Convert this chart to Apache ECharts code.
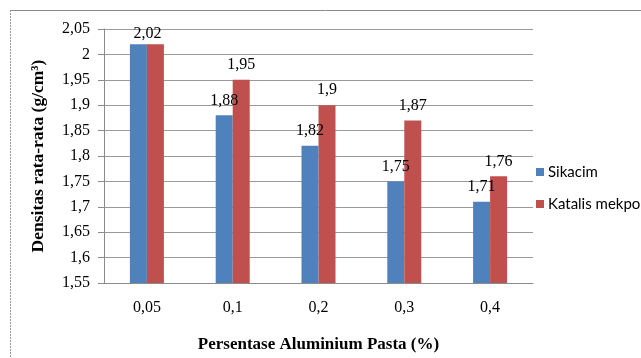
<!DOCTYPE html>
<html>
<head>
<meta charset="utf-8">
<script src="https://cdn.jsdelivr.net/npm/echarts@6/dist/echarts.min.js"></script>
<style>
html,body{margin:0;padding:0;background:#fff;}
#c{width:641px;height:358px;}
</style>
</head>
<body>
<div id="c"></div>
<script>
var categories = ['0,05', '0,1', '0,2', '0,3', '0,4'];
var sikacim = [2.02, 1.88, 1.82, 1.75, 1.71];
var katalis = [2.02, 1.95, 1.90, 1.87, 1.76];
var seriesNames = ['Sikacim', 'Katalis mekpo'];
var yTitle = 'Densitas rata-rata (g/cm³)';
var xTitle = 'Persentase Aluminium Pasta (%)';

function fmt(v) {
  return String(Math.round(v * 100) / 100).replace('.', ',');
}

var chart = echarts.init(document.getElementById('c'));
var serif = '"Liberation Serif", "Times New Roman", serif';

var labelBase = {
  show: true, position: 'top', distance: 7,
  fontFamily: serif, fontSize: 16, color: '#000',
  formatter: function (p) { return fmt(p.value); }
};

var sikData = sikacim.map(function (v, i) {
  if (i === 0) return { value: v, label: { show: false } };
  return v;
});
var katData = katalis.map(function (v, i) {
  if (i === 0) return { value: v, label: { offset: [-8, 5] } };
  return v;
});

chart.setOption({
  animation: false,
  backgroundColor: '#fff',
  graphic: [
    { type: 'line', shape: { x1: 10, y1: 10.5, x2: 641, y2: 10.5 }, style: { stroke: '#8a8a8a', lineWidth: 1 } },
    { type: 'line', shape: { x1: 10.5, y1: 10, x2: 10.5, y2: 358 }, style: { stroke: '#9a9a9a', lineWidth: 1, lineDash: [2, 1] } }
  ],
  grid: { left: 104, right: 108, top: 29, bottom: 75, containLabel: false },
  legend: {
    orient: 'vertical', left: 536, top: 164,
    icon: 'rect', itemWidth: 8, itemHeight: 8, itemGap: 16, padding: 0,
    textStyle: { fontFamily: 'Lato, "Open Sans", sans-serif', fontSize: 15, color: '#000', lineHeight: 16, padding: [0, 0, 0, -1] },
    data: seriesNames
  },
  xAxis: {
    type: 'category', data: categories,
    name: xTitle, nameLocation: 'middle', nameGap: 53,
    nameTextStyle: { fontFamily: serif, fontSize: 17, fontWeight: 'bold', color: '#000' },
    axisLine: { show: true, lineStyle: { color: '#8a8a8a', width: 1 } },
    axisTick: { show: false },
    axisLabel: { fontFamily: serif, fontSize: 16, color: '#000', margin: 17 }
  },
  yAxis: {
    type: 'value', min: 1.55, max: 2.05, interval: 0.05,
    name: yTitle, nameLocation: 'middle', nameGap: 57, nameRotate: 90,
    nameTextStyle: { fontFamily: serif, fontSize: 17.5, fontWeight: 'bold', color: '#000' },
    axisLine: { show: true, lineStyle: { color: '#8a8a8a', width: 1 } },
    axisTick: { show: true, length: 6, lineStyle: { color: '#8a8a8a' } },
    axisLabel: { fontFamily: serif, fontSize: 16, color: '#000', margin: 14, formatter: fmt },
    splitLine: { show: true, lineStyle: { color: '#9a9a9a', width: 1 } }
  },
  series: [
    { name: seriesNames[0], type: 'bar', data: sikData, barWidth: 17, barGap: '0%',
      itemStyle: { color: '#4F81BD' }, label: labelBase },
    { name: seriesNames[1], type: 'bar', data: katData, barWidth: 17, barGap: '0%',
      itemStyle: { color: '#C0504D' }, label: labelBase }
  ]
});
</script>
</body>
</html>
